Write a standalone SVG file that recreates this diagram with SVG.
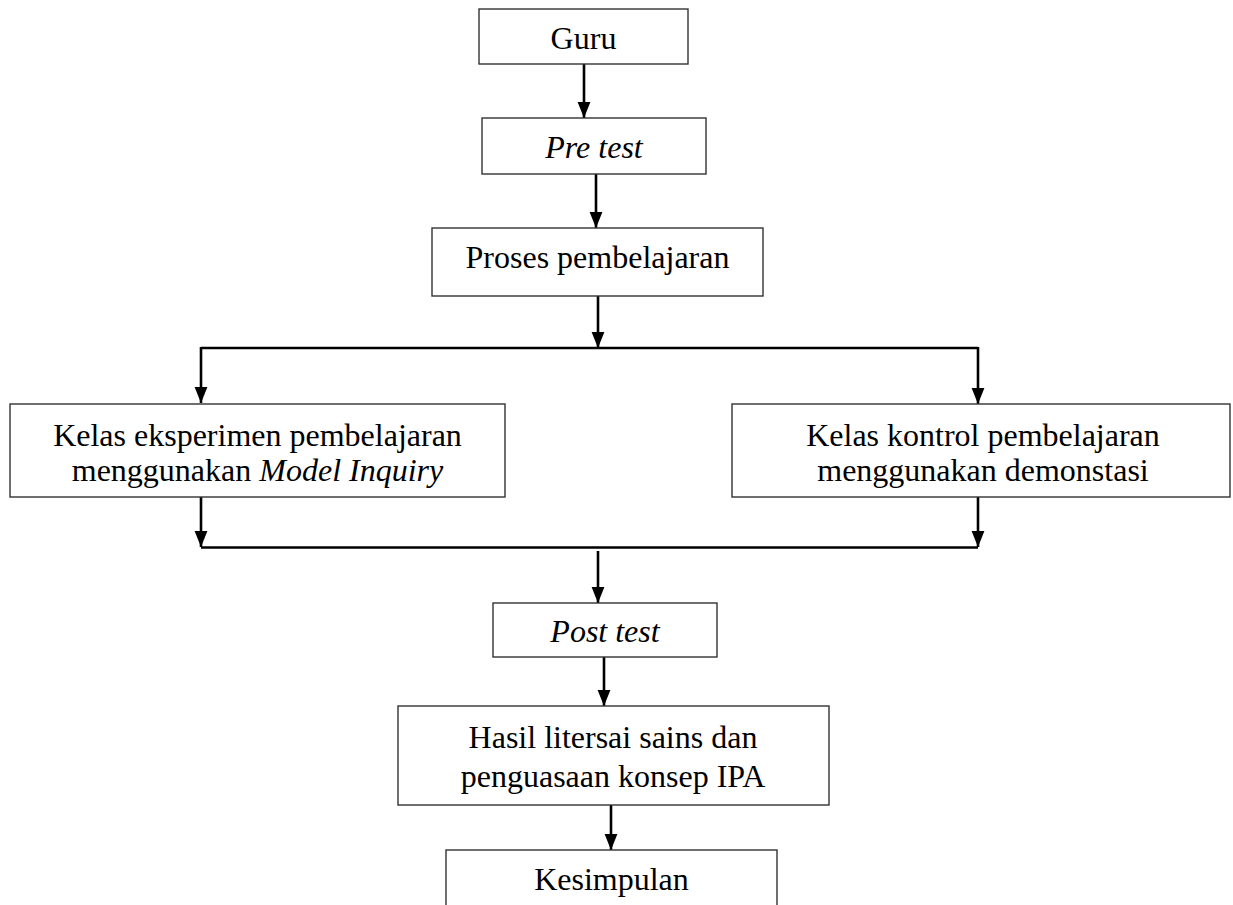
<svg xmlns="http://www.w3.org/2000/svg" width="1233" height="905" viewBox="0 0 1233 905">
<defs>
<marker id="arr" markerWidth="16" markerHeight="20" refX="20" refY="8" orient="auto" markerUnits="userSpaceOnUse" viewBox="0 0 20 16">
<path d="M0,0 L20,8 L0,16 Z" fill="#000"/>
</marker>
<style>
.box{fill:#fff;stroke:#333;stroke-width:1.4}
.t{font-family:"Liberation Serif","Times New Roman",serif;font-size:32px;fill:#000;text-anchor:middle}
.i{font-style:italic}
.c{stroke:#000;stroke-width:2.6;fill:none}
.ca{stroke:#000;stroke-width:2.6;fill:none;marker-end:url(#arr)}
</style>
</defs>
<g id="connectors">
<line class="ca" x1="584" y1="64" x2="584" y2="118"/>
<line class="ca" x1="596" y1="174" x2="596" y2="228"/>
<line class="ca" x1="598" y1="296" x2="598" y2="348"/>
<line class="c" x1="201" y1="348" x2="978" y2="348"/>
<line class="ca" x1="201" y1="347" x2="201" y2="403"/>
<line class="ca" x1="978" y1="347" x2="978" y2="404"/>
<line class="ca" x1="201" y1="497" x2="201" y2="547"/>
<line class="ca" x1="978" y1="497" x2="978" y2="547"/>
<line class="c" x1="201" y1="547.5" x2="978" y2="547.5"/>
<line class="ca" x1="598" y1="551" x2="598" y2="603"/>
<line class="ca" x1="604" y1="657" x2="604" y2="706"/>
<line class="ca" x1="611" y1="805" x2="611" y2="850"/>
</g>
<g id="guru"><rect class="box" x="479" y="9" width="209" height="55"/><text class="t" x="583.5" y="49">Guru</text></g>
<g id="pretest"><rect class="box" x="482" y="118" width="224" height="56"/><text class="t i" x="594" y="158">Pre test</text></g>
<g id="proses"><rect class="box" x="432" y="228" width="331" height="68"/><text class="t" x="597.5" y="268">Proses pembelajaran</text></g>
<g id="eksperimen"><rect class="box" x="10" y="404" width="495" height="93"/><text class="t" x="257.5" y="446">Kelas eksperimen pembelajaran</text><text class="t" x="257.5" y="481">menggunakan <tspan class="i">Model Inquiry</tspan></text></g>
<g id="kontrol"><rect class="box" x="732" y="404" width="498" height="93"/><text class="t" x="983" y="446">Kelas kontrol pembelajaran</text><text class="t" x="983" y="481">menggunakan demonstasi</text></g>
<g id="posttest"><rect class="box" x="493" y="603" width="224" height="54"/><text class="t i" x="605" y="642">Post test</text></g>
<g id="hasil"><rect class="box" x="398" y="706" width="431" height="99"/><text class="t" x="613" y="748">Hasil litersai sains dan</text><text class="t" x="613" y="787">penguasaan konsep IPA</text></g>
<g id="kesimpulan"><rect class="box" x="446" y="850" width="331" height="80"/><text class="t" x="611.5" y="890">Kesimpulan</text></g>
</svg>
